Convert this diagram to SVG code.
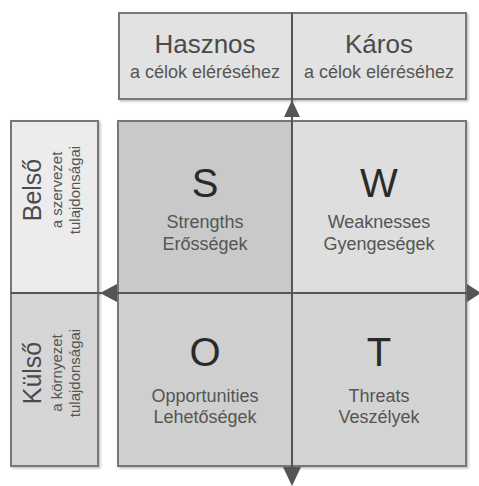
<svg xmlns="http://www.w3.org/2000/svg" width="479" height="486" viewBox="0 0 479 486">
  <defs>
    <filter id="shadow" x="-5%" y="-5%" width="115%" height="115%">
      <feDropShadow dx="1.5" dy="1.5" stdDeviation="1" flood-color="#000" flood-opacity="0.25"/>
    </filter>
    <style>
      .box { stroke: #777; stroke-width: 2; filter: url(#shadow); }
      .t { font-family: "Liberation Sans", Arial, sans-serif; text-anchor: middle; fill: #444; }
      .big { font-size: 26px; fill: #4a4a4a; }
      .sub { font-size: 18px; fill: #555; }
      .side { font-size: 25px; fill: #4a4a4a; }
      .sidesub { font-size: 15px; fill: #555; }
      .small { font-size: 18px; fill: #555; }
      .letter { font-size: 40px; fill: #2a2a2a; }
      .axis { stroke: #555; stroke-width: 2; fill: none; }
      .head { fill: #555; }
    </style>
  </defs>
  <rect width="479" height="486" fill="#fff"/>

  <!-- column headers -->
  <g id="hasznos">
    <rect class="box" x="119" y="13" width="173" height="86" fill="#e2e2e2"/>
    <text class="t big" x="205" y="53">Hasznos</text>
    <text class="t sub" x="205" y="78">a célok eléréséhez</text>
  </g>
  <g id="karos">
    <rect class="box" x="292" y="13" width="174" height="86" fill="#e2e2e2"/>
    <text class="t big" x="379" y="53">Káros</text>
    <text class="t sub" x="379" y="78">a célok eléréséhez</text>
  </g>

  <!-- row headers -->
  <g id="belso">
    <rect class="box" x="11" y="121" width="87" height="172" fill="#ececec"/>
    <g transform="translate(0,190) rotate(-90)">
      <text class="t side" x="0" y="41">Belső</text>
      <text class="t sidesub" x="0" y="62">a szervezet</text>
      <text class="t sidesub" x="0" y="80">tulajdonságai</text>
    </g>
  </g>
  <g id="kulso">
    <rect class="box" x="11" y="293" width="87" height="173" fill="#d6d6d6"/>
    <g transform="translate(0,373) rotate(-90)">
      <text class="t side" x="0" y="41">Külső</text>
      <text class="t sidesub" x="0" y="62">a környezet</text>
      <text class="t sidesub" x="0" y="80">tulajdonságai</text>
    </g>
  </g>

  <!-- SWOT quadrants -->
  <g id="s">
    <rect class="box" x="118" y="121" width="174" height="172" fill="#c9c9c9"/>
    <text class="t letter" x="205" y="197">S</text>
    <text class="t small" x="205" y="228">Strengths</text>
    <text class="t small" x="205" y="250">Erősségek</text>
  </g>
  <g id="w">
    <rect class="box" x="292" y="121" width="174" height="172" fill="#dedede"/>
    <text class="t letter" x="379" y="197">W</text>
    <text class="t small" x="379" y="228">Weaknesses</text>
    <text class="t small" x="379" y="250">Gyengeségek</text>
  </g>
  <g id="o">
    <rect class="box" x="118" y="293" width="174" height="173" fill="#cfcfcf"/>
    <text class="t letter" x="205" y="366">O</text>
    <text class="t small" x="205" y="402">Opportunities</text>
    <text class="t small" x="205" y="423">Lehetőségek</text>
  </g>
  <g id="t">
    <rect class="box" x="292" y="293" width="174" height="173" fill="#d3d3d3"/>
    <text class="t letter" x="379" y="366">T</text>
    <text class="t small" x="379" y="402">Threats</text>
    <text class="t small" x="379" y="423">Veszélyek</text>
  </g>

  <!-- axes -->
  <g id="connectors">
    <line class="axis" x1="11" y1="293" x2="470" y2="293"/>
    <line class="axis" x1="292" y1="13" x2="292" y2="478"/>
    <path class="head" d="M117,284 L100,293 L117,302 Z"/>
    <path class="head" d="M467,284 L481,293 L467,302 Z"/>
    <path class="head" d="M284,117 L292,100 L300,117 Z"/>
    <path class="head" d="M283,467 L292,486 L301,467 Z"/>
  </g>
</svg>
